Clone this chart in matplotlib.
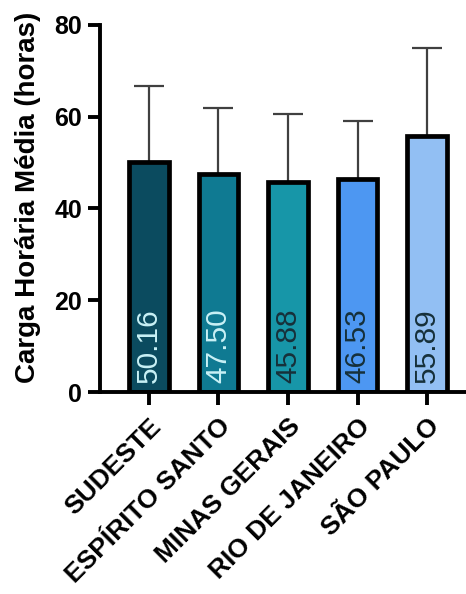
import matplotlib
matplotlib.use("Agg")
import matplotlib.pyplot as plt

categories = ["SUDESTE", "ESPÍRITO SANTO", "MINAS GERAIS", "RIO DE JANEIRO", "SÃO PAULO"]
means = [50.16, 47.50, 45.88, 46.53, 55.89]
sds = [16.5, 14.4, 14.8, 12.6, 19.0]
colors = ["#0b4b5f", "#0f7a92", "#1796a8", "#4d97f2", "#92bff3"]
text_colors = ["#c9f1f6", "#c9f1f6", "#16303a", "#16303a", "#16303a"]
labels = ["50.16", "47.50", "45.88", "46.53", "55.89"]

plt.rcParams['font.family'] = ['Liberation Sans', 'DejaVu Sans']

fig = plt.figure(figsize=(4.66, 5.94), dpi=100)
ax = fig.add_axes([0.215, 0.34, 0.80, 0.618])

x = list(range(len(categories)))
ax.errorbar(x, means, yerr=[[0]*len(sds), sds], fmt='none', ecolor='#404040',
            elinewidth=1.6, capsize=11, capthick=1.6, zorder=1)
ax.bar(x, means, width=0.57, color=colors, edgecolor='black', linewidth=3.4, zorder=2)
for xi, lab, tc in zip(x, labels, text_colors):
    ax.text(xi, 2.0, lab, rotation=90, ha='center', va='bottom', color=tc,
            fontsize=21.5, zorder=3)

ax.set_xlim(-0.7, 4.66)
ax.set_ylim(0, 80)
ax.set_yticks([0, 20, 40, 60, 80])
ax.set_xticks(x)
ax.set_xticklabels(categories, rotation=45, ha='right', rotation_mode='anchor',
                   fontweight='bold', fontsize=19)
for t in ax.get_yticklabels():
    t.set_fontweight('bold')
    t.set_fontsize(18)
ax.set_ylabel("Carga Horária Média (horas)", fontweight='bold', fontsize=20)
ax.yaxis.set_label_coords(-0.16, 0.53)
ax.spines['top'].set_visible(False)
ax.spines['right'].set_visible(False)
ax.spines['left'].set_linewidth(2.8)
ax.spines['bottom'].set_linewidth(2.8)
ax.tick_params(axis='both', width=2.8, length=9, direction='out', pad=4)
ax.tick_params(axis='x', pad=7)

fig.savefig("out.png", dpi=100)
